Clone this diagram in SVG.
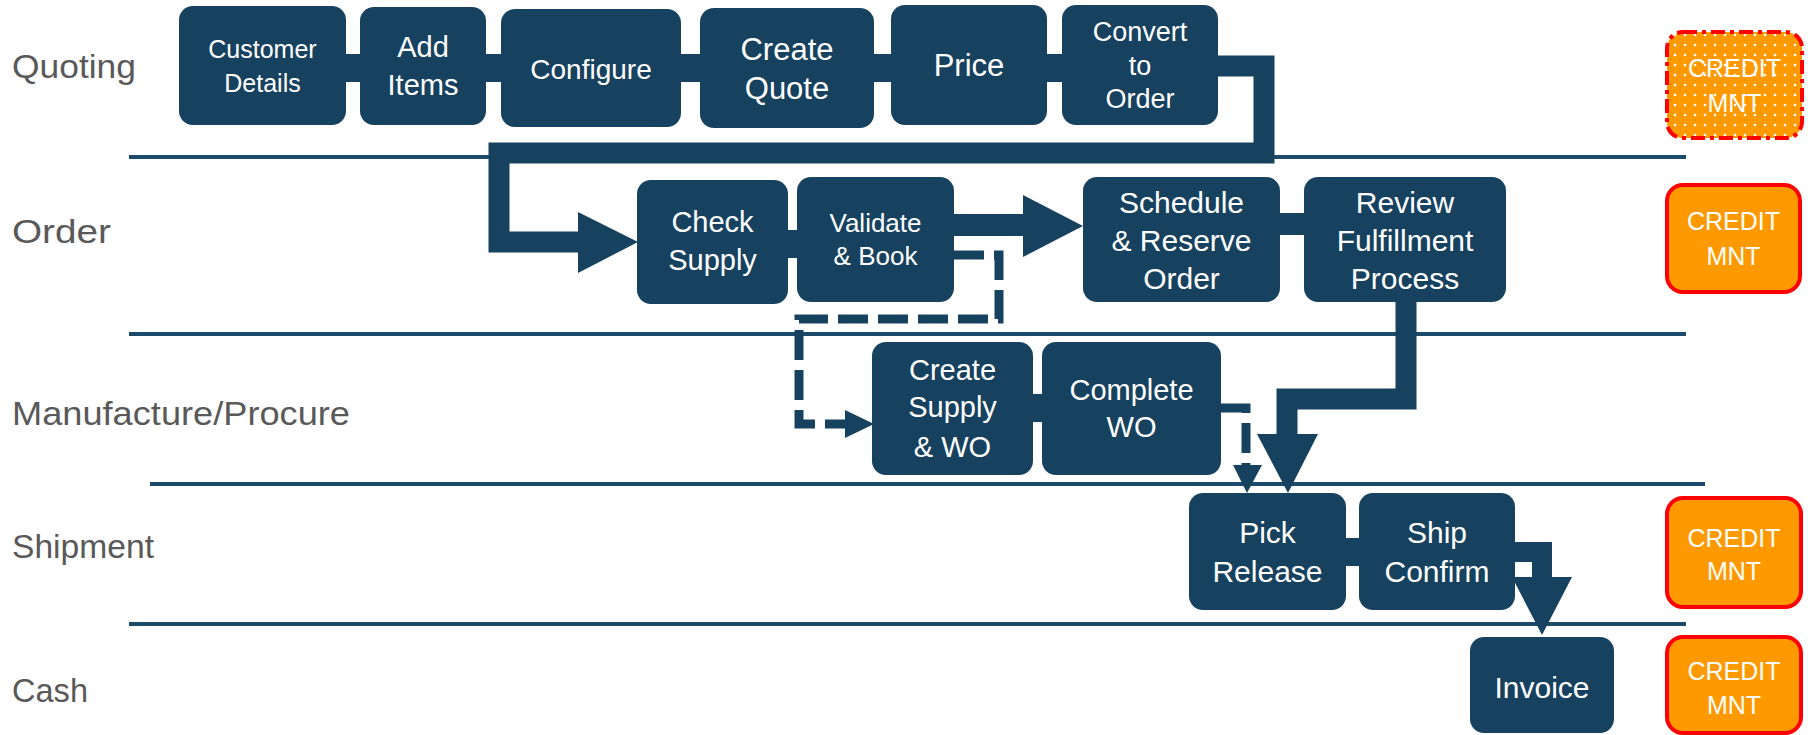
<svg xmlns="http://www.w3.org/2000/svg" width="1810" height="735" viewBox="0 0 1810 735">
<defs>
<style>
.lane{font-family:"Liberation Sans",Arial,sans-serif;font-size:33px;fill:#595959}
.sep{stroke:#1B4A6B;stroke-width:4}
.box{fill:#17425F}
.t{font-family:"Liberation Sans",Arial,sans-serif;fill:#ffffff;text-anchor:middle}
.bar{stroke:#17425F;fill:none;stroke-linejoin:miter}
.dash{stroke:#17425F;fill:none;stroke-width:9;stroke-dasharray:30 10}
.head{fill:#17425F}
.cr{fill:#FF9900;stroke:#FF0000;stroke-width:4}
.ct{font-family:"Liberation Sans",Arial,sans-serif;fill:#ffffff;text-anchor:middle;font-size:25px}
</style>
<pattern id="dots" width="10" height="10" patternUnits="userSpaceOnUse">
<rect width="10" height="10" fill="#FF9900"/>
<circle cx="5" cy="5" r="1.3" fill="#ffffff"/>
</pattern>
</defs>
<rect width="1810" height="735" fill="#ffffff"/>

<g id="lanes">
<text class="lane" x="12" y="78" textLength="124" lengthAdjust="spacingAndGlyphs">Quoting</text>
<text class="lane" x="12" y="243" textLength="99" lengthAdjust="spacingAndGlyphs">Order</text>
<text class="lane" x="12" y="425" textLength="338" lengthAdjust="spacingAndGlyphs">Manufacture/Procure</text>
<text class="lane" x="12" y="558" textLength="142" lengthAdjust="spacingAndGlyphs">Shipment</text>
<text class="lane" x="12" y="702" textLength="76" lengthAdjust="spacingAndGlyphs">Cash</text>
<line class="sep" x1="129" y1="157" x2="1686" y2="157"/>
<line class="sep" x1="129" y1="334" x2="1686" y2="334"/>
<line class="sep" x1="150" y1="484" x2="1705" y2="484"/>
<line class="sep" x1="129" y1="624" x2="1686" y2="624"/>
</g>

<g id="connectors">
<line class="bar" stroke-width="28" x1="340" y1="68" x2="366" y2="68"/>
<line class="bar" stroke-width="28" x1="480" y1="68" x2="507" y2="68"/>
<line class="bar" stroke-width="28" x1="675" y1="68" x2="706" y2="68"/>
<line class="bar" stroke-width="28" x1="868" y1="68" x2="897" y2="68"/>
<line class="bar" stroke-width="28" x1="1041" y1="68" x2="1068" y2="68"/>
<polyline class="bar" stroke-width="21" points="1212,66 1264,66 1264,153 499,153 499,242 580,242"/>
<polygon class="head" points="578,212 638,242 578,273"/>
<line class="bar" stroke-width="28" x1="782" y1="244" x2="803" y2="244"/>
<line class="bar" stroke-width="22" x1="948" y1="225" x2="1025" y2="225"/>
<polygon class="head" points="1023,195 1083,226 1023,257"/>
<path class="dash" d="M954,255 H999 V319 H799 V424 H846"/>
<polygon class="head" points="845,410 874,424 845,438"/>
<line class="bar" stroke-width="22" x1="1274" y1="224" x2="1310" y2="224"/>
<polyline class="bar" stroke-width="21" points="1406,296 1406,399 1287,399 1287,436"/>
<polygon class="head" points="1257,434 1288,493 1318,434"/>
<line class="bar" stroke-width="28" x1="1027" y1="408" x2="1048" y2="408"/>
<path class="dash" d="M1221,408 H1246 V466" stroke-dasharray="28 9"/>
<polygon class="head" points="1233,465 1247,493 1262,465"/>
<line class="bar" stroke-width="28" x1="1340" y1="552" x2="1365" y2="552"/>
<polyline class="bar" stroke-width="20" points="1509,552 1542,552 1542,579"/>
<polygon class="head" points="1512,577 1542,635 1572,577"/>
</g>

<g id="customer-details"><rect class="box" x="179" y="6" width="167" height="119" rx="14"/>
<text class="t" font-size="25"><tspan x="262.5" y="58">Customer</tspan><tspan x="262.5" y="92">Details</tspan></text></g>
<g id="add-items"><rect class="box" x="360" y="7" width="126" height="118" rx="14"/>
<text class="t" font-size="29"><tspan x="423" y="57">Add</tspan><tspan x="423" y="95">Items</tspan></text></g>
<g id="configure"><rect class="box" x="501" y="9" width="180" height="118" rx="14"/>
<text class="t" font-size="28" x="591" y="79">Configure</text></g>
<g id="create-quote"><rect class="box" x="700" y="8" width="174" height="120" rx="14"/>
<text class="t" font-size="31"><tspan x="787" y="60">Create</tspan><tspan x="787" y="99">Quote</tspan></text></g>
<g id="price"><rect class="box" x="891" y="5" width="156" height="120" rx="14"/>
<text class="t" font-size="31" x="969" y="76">Price</text></g>
<g id="convert-to-order"><rect class="box" x="1062" y="5" width="156" height="120" rx="14"/>
<text class="t" font-size="27"><tspan x="1140" y="41">Convert</tspan><tspan x="1140" y="75">to</tspan><tspan x="1140" y="108">Order</tspan></text></g>

<g id="check-supply"><rect class="box" x="637" y="180" width="151" height="124" rx="14"/>
<text class="t" font-size="29"><tspan x="712.5" y="232">Check</tspan><tspan x="712.5" y="270">Supply</tspan></text></g>
<g id="validate-book"><rect class="box" x="797" y="177" width="157" height="125" rx="14"/>
<text class="t" font-size="26"><tspan x="875.5" y="232">Validate</tspan><tspan x="875.5" y="265">&amp; Book</tspan></text></g>
<g id="schedule-reserve-order"><rect class="box" x="1083" y="177" width="197" height="125" rx="14"/>
<text class="t" font-size="30"><tspan x="1181.5" y="213">Schedule</tspan><tspan x="1181.5" y="251">&amp; Reserve</tspan><tspan x="1181.5" y="289">Order</tspan></text></g>
<g id="review-fulfillment"><rect class="box" x="1304" y="177" width="202" height="125" rx="14"/>
<text class="t" font-size="30"><tspan x="1405" y="213">Review</tspan><tspan x="1405" y="251">Fulfillment</tspan><tspan x="1405" y="289">Process</tspan></text></g>

<g id="create-supply-wo"><rect class="box" x="872" y="342" width="161" height="133" rx="14"/>
<text class="t" font-size="29"><tspan x="952.5" y="380">Create</tspan><tspan x="952.5" y="417">Supply</tspan><tspan x="952.5" y="457">&amp; WO</tspan></text></g>
<g id="complete-wo"><rect class="box" x="1042" y="342" width="179" height="133" rx="14"/>
<text class="t" font-size="29"><tspan x="1131.5" y="400">Complete</tspan><tspan x="1131.5" y="437">WO</tspan></text></g>

<g id="pick-release"><rect class="box" x="1189" y="493" width="157" height="117" rx="14"/>
<text class="t" font-size="30"><tspan x="1267.5" y="543">Pick</tspan><tspan x="1267.5" y="582">Release</tspan></text></g>
<g id="ship-confirm"><rect class="box" x="1359" y="493" width="156" height="117" rx="14"/>
<text class="t" font-size="30"><tspan x="1437" y="543">Ship</tspan><tspan x="1437" y="582">Confirm</tspan></text></g>

<g id="invoice"><rect class="box" x="1470" y="637" width="144" height="96" rx="14"/>
<text class="t" font-size="30" x="1542" y="698">Invoice</text></g>

<g id="credit-mnt-quoting"><rect x="1667" y="32" width="135" height="106" rx="16" fill="url(#dots)" stroke="#FF0000" stroke-width="4" stroke-dasharray="14 5 4 5"/>
<text class="ct"><tspan x="1734.5" y="77">CREDIT</tspan><tspan x="1734.5" y="112">MNT</tspan></text></g>
<g id="credit-mnt-order"><rect class="cr" x="1667" y="185" width="133" height="107" rx="16"/>
<text class="ct"><tspan x="1733.5" y="230">CREDIT</tspan><tspan x="1733.5" y="265">MNT</tspan></text></g>
<g id="credit-mnt-shipment"><rect class="cr" x="1667" y="498" width="134" height="109" rx="16"/>
<text class="ct"><tspan x="1734" y="547">CREDIT</tspan><tspan x="1734" y="580">MNT</tspan></text></g>
<g id="credit-mnt-cash"><rect class="cr" x="1667" y="637" width="134" height="96" rx="16"/>
<text class="ct"><tspan x="1734" y="680">CREDIT</tspan><tspan x="1734" y="714">MNT</tspan></text></g>
</svg>
